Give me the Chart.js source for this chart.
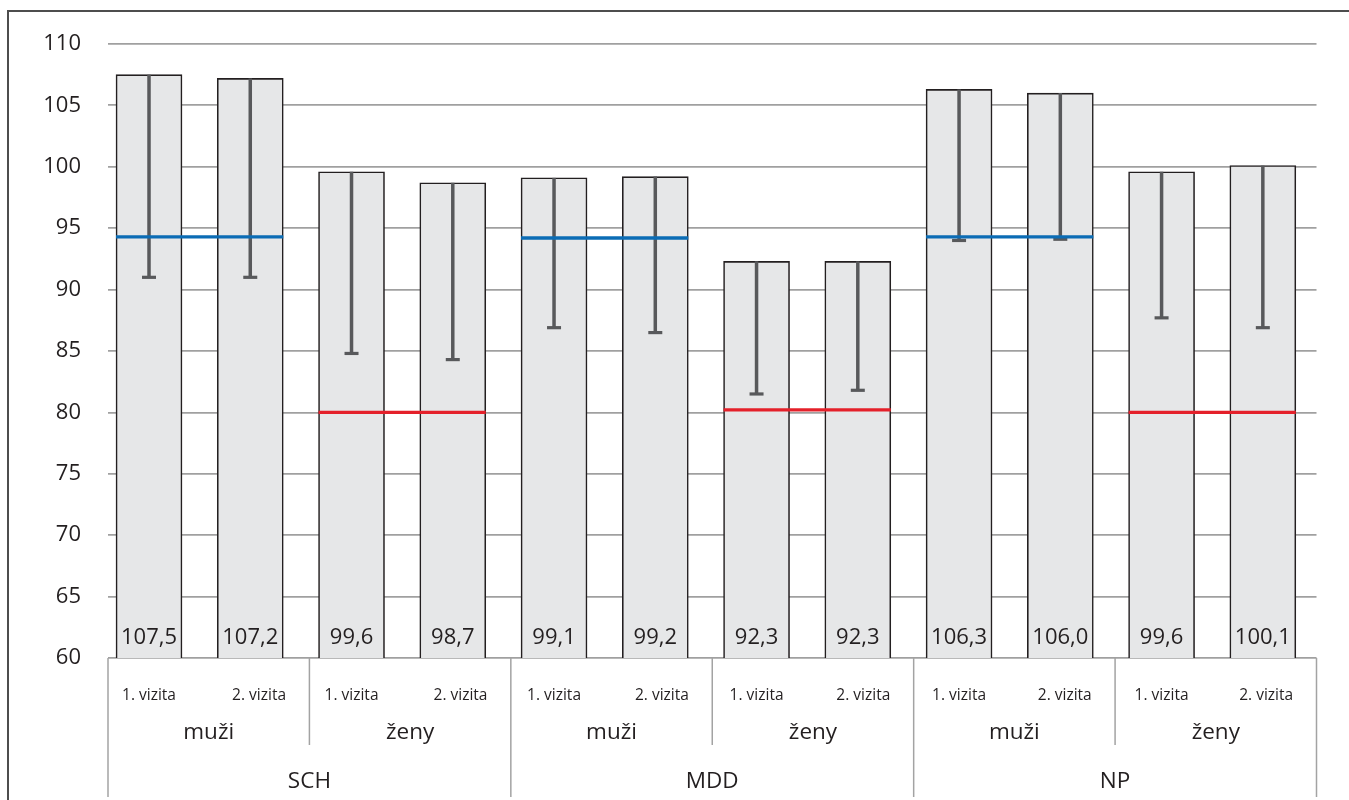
<!DOCTYPE html>
<html>
<head>
<meta charset="utf-8">
<script src="https://cdn.jsdelivr.net/npm/chart.js@4/dist/chart.umd.min.js"></script>
<style>
  html, body { margin: 0; padding: 0; background: #ffffff; }
  #wrap { width: 1349px; height: 800px; position: relative; }
</style>
</head>
<body>
<div id="wrap"><canvas id="chart"></canvas></div>
<script>
// Waist circumference (cm) by diagnosis, sex and visit
const diagnoses = ['SCH', 'MDD', 'NP'];
const sexes = ['muži', 'ženy'];
const visits = ['1. vizita', '2. vizita'];
const means = [107.5, 107.2, 99.6, 98.7, 99.1, 99.2, 92.3, 92.3, 106.3, 106.0, 99.6, 100.1];
const errorLow = [91.0, 91.0, 84.8, 84.3, 86.9, 86.5, 81.5, 81.8, 94.0, 94.1, 87.7, 86.9];
// risk threshold drawn across each sex pair (muži / ženy per diagnosis)
const thresholds = [94.3, 80.0, 94.2, 80.2, 94.3, 80.0];
const yTicks = [60, 65, 70, 75, 80, 85, 90, 95, 100, 105, 110];

const FONT = '"Open Sans", "Noto Sans", sans-serif';
const TEXT = '#231f20';
const SEP = '#a3a3a3';

const framePlugin = {
  id: 'frame',
  beforeDraw(chart) {
    const c = chart.ctx;
    c.save();
    c.strokeStyle = '#4d4d4d';
    c.lineWidth = 2;
    c.beginPath();
    c.moveTo(8, chart.height);
    c.lineTo(8, 11);
    c.lineTo(chart.width, 11);
    c.stroke();
    c.restore();
  }
};

const overlayPlugin = {
  id: 'overlay',
  afterDatasetsDraw(chart) {
    const c = chart.ctx;
    const y = chart.scales.y;
    const bars = chart.getDatasetMeta(0).data;
    c.save();
    // error whiskers: from the bar top down to the lower value, capped
    c.strokeStyle = '#58595b';
    bars.forEach((b, i) => {
      const top = y.getPixelForValue(means[i]);
      const low = y.getPixelForValue(errorLow[i]);
      c.lineWidth = 3.5;
      c.beginPath();
      c.moveTo(b.x, top);
      c.lineTo(b.x, low);
      c.stroke();
      c.lineWidth = 3.2;
      c.beginPath();
      c.moveTo(b.x - 7, low);
      c.lineTo(b.x + 7, low);
      c.stroke();
    });
    // threshold lines across each pair of bars
    thresholds.forEach((t, k) => {
      const b1 = bars[2 * k], b2 = bars[2 * k + 1];
      const py = y.getPixelForValue(t);
      c.strokeStyle = (k % 2 === 0) ? '#0b6cb5' : '#e4202a';
      c.lineWidth = 3.3;
      c.beginPath();
      c.moveTo(b1.x - b1.width / 2, py);
      c.lineTo(b2.x + b2.width / 2, py);
      c.stroke();
    });
    // value labels at the foot of each bar
    c.fillStyle = TEXT;
    c.font = '22px ' + FONT;
    c.textAlign = 'center';
    c.textBaseline = 'alphabetic';
    const base = y.getPixelForValue(60);
    bars.forEach((b, i) => {
      c.fillText(means[i].toFixed(1).replace('.', ','), b.x, base - 14);
    });
    c.restore();
  },
  afterDraw(chart) {
    const c = chart.ctx;
    const a = chart.chartArea;
    const w = a.right - a.left;
    const bars = chart.getDatasetMeta(0).data;
    const bottom = a.bottom;
    c.save();
    // separators of the three-level category axis
    c.strokeStyle = SEP;
    c.lineWidth = 1.5;
    for (let k = 0; k <= 6; k++) {
      const x = a.left + k * w / 6;
      const end = (k % 2 === 0) ? 797 : 745;
      c.beginPath();
      c.moveTo(x, bottom);
      c.lineTo(x, end);
      c.stroke();
    }
    c.fillStyle = TEXT;
    c.textAlign = 'center';
    c.textBaseline = 'alphabetic';
    c.font = '15.5px ' + FONT;
    for (let i = 0; i < means.length; i++) {
      const x = (i % 2 === 0) ? bars[i].x : a.left + (i + 0.5) * w / 12;
      c.fillText(visits[i % 2], x, bottom + 41.5);
    }
    c.font = '22.5px ' + FONT;
    for (let j = 0; j < 6; j++) {
      c.fillText(sexes[j % 2], a.left + (j + 0.5) * w / 6, bottom + 80.5);
    }
    for (let g = 0; g < diagnoses.length; g++) {
      c.fillText(diagnoses[g], a.left + (g + 0.5) * w / 3, bottom + 130);
    }
    c.restore();
  }
};

new Chart(document.getElementById('chart'), {
  type: 'bar',
  data: {
    datasets: [{
      data: means.map((v, i) => ({ x: i, y: v })),
      backgroundColor: '#e6e7e8',
      borderColor: '#231f20',
      borderWidth: 1.6,
      borderSkipped: false,
      barThickness: 66
    }]
  },
  options: {
    responsive: true,
    maintainAspectRatio: false,
    animation: false,
    layout: { padding: { top: 44, right: 32.5, left: 0, bottom: 0 } },
    plugins: { legend: { display: false }, tooltip: { enabled: false } },
    scales: {
      x: {
        type: 'linear',
        min: -0.405,
        max: 11.53,
        offset: false,
        bounds: 'ticks',
        ticks: { display: false },
        grid: { display: false, offset: false },
        border: { display: false },
        afterFit(s) { s.height = 142; }
      },
      y: {
        min: 60,
        max: 110,
        afterBuildTicks(s) { s.ticks = yTicks.map(v => ({ value: v })); },
        ticks: {
          color: TEXT,
          font: { family: FONT, size: 22 },
          padding: 27
        },
        grid: { color: '#a0a0a0', lineWidth: 1.8, drawTicks: false },
        border: { display: false },
        afterFit(s) { s.width = 108; }
      }
    }
  },
  plugins: [framePlugin, overlayPlugin]
});
</script>
</body>
</html>
